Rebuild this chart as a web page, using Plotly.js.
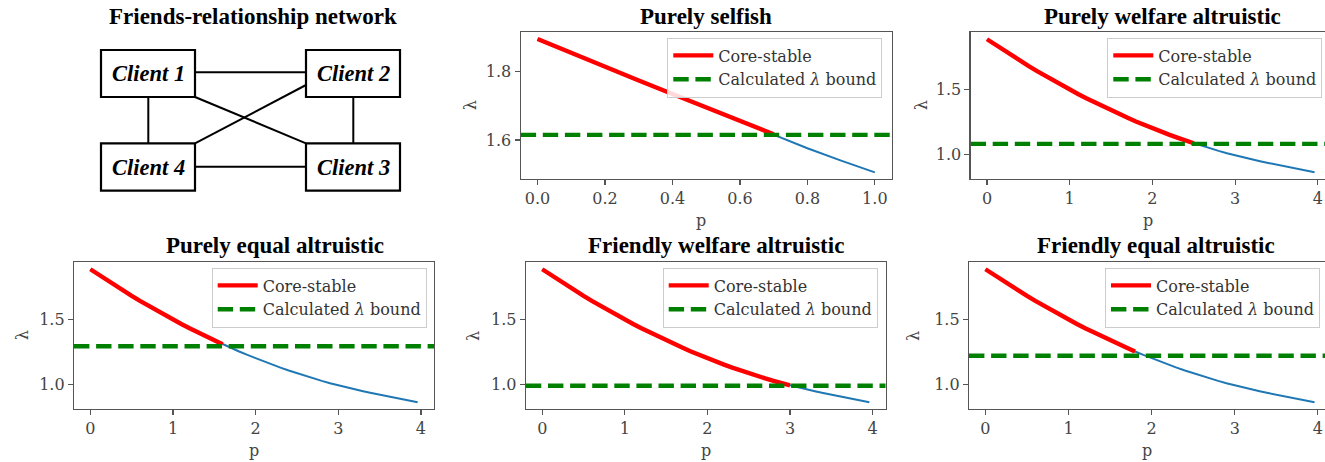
<!DOCTYPE html>
<html><head><meta charset="utf-8">
<script src="https://cdn.plot.ly/plotly-3.0.1.min.js"></script>
<style>html,body{margin:0;padding:0;background:#fff;}#chart{width:1325px;height:462px;}</style>
</head><body><div id="chart"></div>
<script>
// ---------------- data ----------------
const selfishP = [0, 0.1, 0.2, 0.3, 0.4, 0.5, 0.6, 0.7, 0.8, 0.9, 1.0];
const selfishLambda = [1.894, 1.853, 1.813, 1.773, 1.734, 1.695, 1.656, 1.617, 1.576, 1.540, 1.506];

const altruisticP = [0, 0.1, 0.2, 0.3, 0.4, 0.5, 0.6, 0.7, 0.8, 0.9,
  1.0, 1.1, 1.2, 1.3, 1.4, 1.5, 1.6, 1.7, 1.8, 1.9,
  2.0, 2.1, 2.2, 2.3, 2.4, 2.5, 2.6, 2.7, 2.8, 2.9,
  3.0, 3.1, 3.2, 3.3, 3.4, 3.5, 3.6, 3.7, 3.8, 3.9, 3.96];
const altruisticLambda = [1.890, 1.847, 1.805, 1.764, 1.723, 1.684, 1.645, 1.608, 1.571, 1.535,
  1.500, 1.466, 1.433, 1.401, 1.369, 1.339, 1.309, 1.281, 1.253, 1.226,
  1.200, 1.175, 1.151, 1.128, 1.105, 1.084, 1.063, 1.044, 1.025, 1.007,
  0.990, 0.974, 0.959, 0.945, 0.931, 0.919, 0.906, 0.893, 0.882, 0.870, 0.860];

const panelTitles = ['Purely selfish', 'Purely welfare altruistic', 'Purely equal altruistic',
  'Friendly welfare altruistic', 'Friendly equal altruistic'];
const panelCurve = ['selfish', 'altruistic', 'altruistic', 'altruistic', 'altruistic'];
const boundLambda = [1.615, 1.079, 1.293, 0.987, 1.220];
const coreStableUntilP = [0.7, 2.5, 1.6, 3.0, 1.8];
const seriesNames = ['Core-stable', 'Calculated <i>λ</i> bound'];

const selfishXTicks = [0, 0.2, 0.4, 0.6, 0.8, 1.0];
const selfishXTickText = ['0.0', '0.2', '0.4', '0.6', '0.8', '1.0'];
const selfishYTicks = [1.6, 1.8];
const selfishYTickText = ['1.6', '1.8'];
const altruisticXTicks = [0, 1, 2, 3, 4];
const altruisticXTickText = ['0', '1', '2', '3', '4'];
const altruisticYTicks = [1.0, 1.5];
const altruisticYTickText = ['1.0', '1.5'];

const networkTitle = 'Friends-relationship network';
const clientNames = ['Client 1', 'Client 2', 'Client 3', 'Client 4'];
const friendPairs = [[0, 1], [0, 3], [1, 2], [3, 2], [0, 2], [3, 1]];

// ---------------- layout geometry (pixels) ----------------
const W = 1325, H = 462;
const X = px => px / W;
const Y = py => 1 - py / H;

const panelGeom = [
  {x0: 520.7, x1: 891.7, y0: 32.3, y1: 179, xr: [-0.05, 1.05], yr: [1.4866, 1.9134], rightCut: false,
   title: {x: 705.8, y: 16}, ylab: 470.7, legend: {x: 882.3, y: 37.5}},
  {x0: 970.6, x1: 1325, y0: 32.3, y1: 179, xr: [-0.198, 4.086], yr: [0.807, 1.944], rightCut: true,
   title: {x: 1162.5, y: 16}, ylab: 921.7, legend: {x: 1322.3, y: 37.5}},
  {x0: 74, x1: 434, y0: 262.3, y1: 409, xr: [-0.198, 4.158], yr: [0.807, 1.944], rightCut: false,
   title: {x: 275, y: 246}, ylab: 22.7, legend: {x: 426.7, y: 267.5}},
  {x0: 525.9, x1: 885.7, y0: 262.3, y1: 409, xr: [-0.198, 4.158], yr: [0.807, 1.944], rightCut: false,
   title: {x: 715.8, y: 246}, ylab: 473.3, legend: {x: 877.7, y: 267.5}},
  {x0: 969, x1: 1325, y0: 262.3, y1: 409, xr: [-0.198, 4.086], yr: [0.807, 1.944], rightCut: true,
   title: {x: 1156.3, y: 246}, ylab: 913.3, legend: {x: 1320, y: 267.5}}
];

const nodeBoxes = [
  {x0: 101, y0: 50, x1: 195, y1: 97},
  {x0: 306, y0: 50, x1: 400, y1: 97},
  {x0: 306, y0: 143.3, x1: 400, y1: 190.7},
  {x0: 101, y0: 143.3, x1: 195, y1: 190.7}
];
// attachment points for each friend pair (same order as friendPairs)
const edgeAnchors = [
  [[195, 72.3], [306, 72.3]],
  [[148.3, 97], [148.3, 143.3]],
  [[353.3, 97], [353.3, 143.3]],
  [[195, 166.7], [306, 166.7]],
  [[195, 97], [306, 143.3]],
  [[195, 143.3], [306, 85]]
];

const SERIF = 'DejaVu Serif';
const TIMES = 'Liberation Serif';
const AXC = '#555';

const traces = [];
const layout = {
  width: W, height: H,
  margin: {l: 0, r: 0, t: 0, b: 0},
  paper_bgcolor: '#ffffff', plot_bgcolor: '#ffffff',
  font: {family: SERIF, size: 16, color: '#444'},
  showlegend: true,
  shapes: [], annotations: []
};

panelGeom.forEach((g, i) => {
  const k = i === 0 ? '' : String(i + 1);
  const xa = 'x' + k, ya = 'y' + k;
  const lg = i === 0 ? 'legend' : 'legend' + (i + 1);
  const isSelfish = panelCurve[i] === 'selfish';
  const P = isSelfish ? selfishP : altruisticP;
  const L = isSelfish ? selfishLambda : altruisticLambda;

  traces.push({x: P, y: L, xaxis: xa, yaxis: ya, mode: 'lines', type: 'scatter',
    line: {color: '#1f77b4', width: 2}, showlegend: false, hoverinfo: 'skip'});
  const rp = [], rl = [];
  P.forEach((p, j) => { if (p <= coreStableUntilP[i] + 1e-9) { rp.push(p); rl.push(L[j]); } });
  traces.push({x: rp, y: rl, xaxis: xa, yaxis: ya, mode: 'lines', type: 'scatter',
    name: seriesNames[0], legend: lg, line: {color: '#ff0000', width: 4.4}});
  traces.push({x: g.xr, y: [boundLambda[i], boundLambda[i]], xaxis: xa, yaxis: ya, mode: 'lines', type: 'scatter',
    name: seriesNames[1], legend: lg, line: {color: '#008000', width: 4.4, dash: '15.4px,6.7px'}});

  const axBase = {showline: true, linecolor: AXC, linewidth: 1.2, ticks: 'outside', ticklen: 5,
    tickwidth: 1.2, tickcolor: AXC, showgrid: false, zeroline: false, fixedrange: true,
    tickfont: {family: SERIF, size: 16, color: '#444'}, tickmode: 'array'};
  layout['xaxis' + k] = Object.assign({}, axBase, {
    domain: [X(g.x0), X(g.x1)], range: g.xr, anchor: ya, mirror: true,
    tickvals: isSelfish ? selfishXTicks : altruisticXTicks,
    ticktext: isSelfish ? selfishXTickText : altruisticXTickText
  });
  layout['yaxis' + k] = Object.assign({}, axBase, {
    domain: [Y(g.y1), Y(g.y0)], range: g.yr, anchor: xa, mirror: !g.rightCut,
    tickvals: isSelfish ? selfishYTicks : altruisticYTicks,
    ticktext: isSelfish ? selfishYTickText : altruisticYTickText
  });

  layout[lg] = {x: X(g.legend.x), y: Y(g.legend.y), xref: 'paper', yref: 'paper',
    xanchor: 'right', yanchor: 'top', bgcolor: 'rgba(255,255,255,0.85)',
    bordercolor: '#cccccc', borderwidth: 1, font: {family: SERIF, size: 16, color: '#333'},
    tracegroupgap: 0, itemwidth: 40};

  layout.annotations.push({text: '<b>' + panelTitles[i] + '</b>', xref: 'paper', yref: 'paper',
    x: X(g.title.x), y: Y(g.title.y), xanchor: 'center', yanchor: 'middle', showarrow: false,
    font: {family: TIMES, size: 23, color: '#000'}});
  layout.annotations.push({text: 'p', xref: 'paper', yref: 'paper',
    x: X((g.x0 + Math.min(g.x1, g.x0 + 360.5)) / 2), y: Y(g.y1 + 41), xanchor: 'center', yanchor: 'middle',
    showarrow: false, font: {family: SERIF, size: 16, color: '#444'}});
  layout.annotations.push({text: 'λ', xref: 'paper', yref: 'paper', textangle: -90,
    x: X(g.ylab), y: Y((g.y0 + g.y1) / 2), xanchor: 'center', yanchor: 'middle',
    showarrow: false, font: {family: SERIF, size: 16, color: '#444'}});
});

// ---------------- network diagram ----------------
layout.annotations.push({text: '<b>' + networkTitle + '</b>', xref: 'paper', yref: 'paper',
  x: X(253.3), y: Y(16), xanchor: 'center', yanchor: 'middle', showarrow: false,
  font: {family: TIMES, size: 23, color: '#000'}});
friendPairs.forEach((pair, e) => {
  const a = edgeAnchors[e];
  layout.shapes.push({type: 'line', xref: 'paper', yref: 'paper',
    x0: X(a[0][0]), y0: Y(a[0][1]), x1: X(a[1][0]), y1: Y(a[1][1]),
    line: {color: '#000', width: 2}});
});
clientNames.forEach((name, n) => {
  const b = nodeBoxes[n];
  layout.shapes.push({type: 'rect', xref: 'paper', yref: 'paper',
    x0: X(b.x0), y0: Y(b.y1), x1: X(b.x1), y1: Y(b.y0),
    line: {color: '#000', width: 2.2}, fillcolor: '#ffffff'});
  layout.annotations.push({text: '<b><i>' + name + '</i></b>', xref: 'paper', yref: 'paper',
    x: X((b.x0 + b.x1) / 2), y: Y((b.y0 + b.y1) / 2), xanchor: 'center', yanchor: 'middle',
    showarrow: false, font: {family: TIMES, size: 22.5, color: '#000'}});
});

Plotly.newPlot('chart', traces, layout, {displayModeBar: false, staticPlot: true});
</script>
</body></html>
